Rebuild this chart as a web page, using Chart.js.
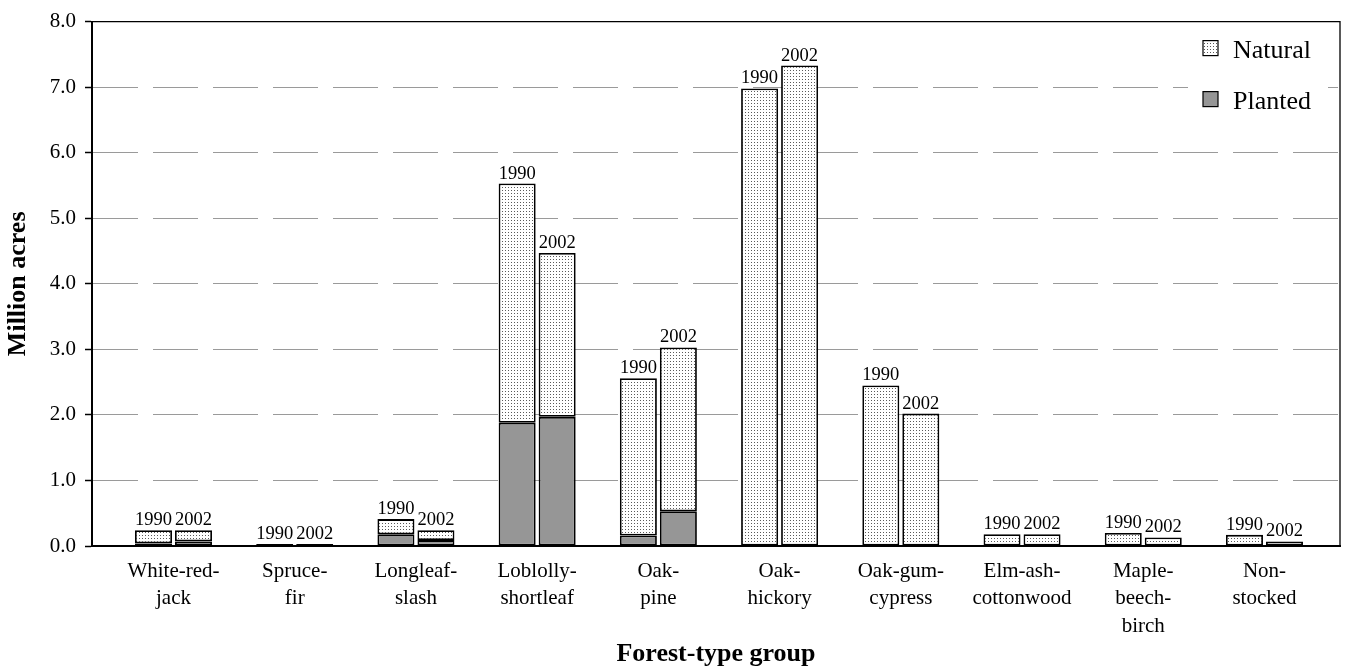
<!DOCTYPE html>
<html>
<head>
<meta charset="utf-8">
<script src="https://cdn.jsdelivr.net/npm/chart.js@4/dist/chart.umd.min.js"></script>
<style>
  html, body { margin: 0; padding: 0; background: #fff; }
</style>
</head>
<body>
<canvas id="chart" width="1346" height="667"></canvas>
<script>
'use strict';

let categories = [
  ['White-red-', 'jack'],
  ['Spruce-', 'fir'],
  ['Longleaf-', 'slash'],
  ['Loblolly-', 'shortleaf'],
  ['Oak-', 'pine'],
  ['Oak-', 'hickory'],
  ['Oak-gum-', 'cypress'],
  ['Elm-ash-', 'cottonwood'],
  ['Maple-', 'beech-', 'birch'],
  ['Non-', 'stocked']
];
let years = ['1990', '2002'];
let planted1990 = [0.04, 0.00, 0.18, 1.88, 0.16, 0, 0, 0, 0, 0];
let natural1990 = [0.20, 0.03, 0.23, 3.65, 2.40, 6.98, 2.45, 0.18, 0.20, 0.17];
let planted2002 = [0.07, 0.00, 0.09, 1.97, 0.53, 0, 0, 0, 0, 0];
let natural2002 = [0.17, 0.03, 0.15, 2.50, 2.50, 7.33, 2.02, 0.18, 0.13, 0.07];
let yTicks = [0, 1, 2, 3, 4, 5, 6, 7, 8];

Chart.defaults.font.family = '"Liberation Serif", "Times New Roman", serif';
Chart.defaults.color = '#000';

let canvas = document.getElementById('chart');
let ctx = canvas.getContext('2d');

// fine dot texture for the natural stands
let tile = document.createElement('canvas');
tile.width = 3;
tile.height = 3;
let tctx = tile.getContext('2d');
tctx.fillStyle = '#fff';
tctx.fillRect(0, 0, 3, 3);
tctx.fillStyle = '#5a5a5a';
tctx.fillRect(1, 1, 1, 1);
let dots = ctx.createPattern(tile, 'repeat');
let plantedColor = '#969696';

function points(arr) {
  return arr.map((v, i) => ({ x: i, y: v || null }));
}

function barSet(label, arr, fill, stack) {
  return {
    label: label,
    data: points(arr),
    stack: stack,
    backgroundColor: fill,
    borderColor: '#000',
    borderWidth: 1.8,
    borderSkipped: false,
    categoryPercentage: 0.66,
    barPercentage: 0.925
  };
}

let extras = {
  id: 'extras',
  afterDatasetsDraw(chart) {
    let c = chart.ctx;
    let a = chart.chartArea;
    c.save();

    // year labels over each bar
    c.font = '18.5px "Liberation Serif"';
    c.fillStyle = '#000';
    c.textAlign = 'center';
    c.textBaseline = 'alphabetic';
    [1, 3].forEach((di, k) => {
      chart.getDatasetMeta(di).data.forEach(bar => {
        c.fillText(years[k], bar.x, bar.y - 5);
      });
    });

    // top and right frame
    c.strokeStyle = '#000';
    c.lineWidth = 1.3;
    c.beginPath();
    c.moveTo(a.left, a.top);
    c.lineTo(a.right, a.top);
    c.lineTo(a.right, a.bottom);
    c.stroke();

    // legend inside the plot
    let lx = a.right - 137;
    c.fillStyle = '#fff';
    c.fillRect(a.right - 152, a.top + 8, 140, 98);
    let rows = [['Natural', dots, a.top + 19], ['Planted', plantedColor, a.top + 70]];
    c.font = '26px "Liberation Serif"';
    c.textAlign = 'left';
    rows.forEach(r => {
      c.fillStyle = r[1];
      c.fillRect(lx, r[2], 15, 15);
      c.lineWidth = 1.2;
      c.strokeRect(lx, r[2], 15, 15);
      c.fillStyle = '#000';
      c.fillText(r[0], lx + 30, r[2] + 17);
    });
    c.restore();
  }
};

new Chart(canvas, {
  type: 'bar',
  data: {
    datasets: [
      barSet('Planted', planted1990, plantedColor, '1990'),
      barSet('Natural', natural1990, dots, '1990'),
      barSet('Planted', planted2002, plantedColor, '2002'),
      barSet('Natural', natural2002, dots, '2002')
    ]
  },
  options: {
    responsive: false,
    animation: false,
    events: [],
    layout: { padding: { top: 17, right: 6, left: 0, bottom: 0 } },
    plugins: {
      legend: { display: false },
      tooltip: { enabled: false }
    },
    scales: {
      x: {
        type: 'linear',
        offset: false,
        bounds: 'data',
        min: -0.6723,
        max: 9.623,
        grid: { display: false, drawTicks: false, offset: false },
        border: { color: '#000', width: 2 },
        afterBuildTicks: s => { s.ticks = categories.map((c, i) => ({ value: i })); },
        afterFit: s => { s.height = 121; },
        ticks: {
          autoSkip: false,
          maxRotation: 0,
          padding: 12,
          font: { size: 21, lineHeight: 1.3 },
          callback: v => categories[v]
        },
        title: {
          display: true,
          text: 'Forest-type group',
          font: { size: 26, weight: 'bold', lineHeight: 1 },
          padding: { top: 0, bottom: 0 }
        }
      },
      y: {
        stacked: true,
        min: 0,
        max: 8,
        afterBuildTicks: s => { s.ticks = yTicks.map(v => ({ value: v })); },
        afterFit: s => { s.width = 92; },
        ticks: {
          padding: 9,
          font: { size: 21 },
          callback: v => v.toFixed(1)
        },
        grid: {
          color: '#9a9a9a',
          lineWidth: 1,
          tickLength: 7,
          tickColor: '#000',
          tickWidth: 1.5,
          tickBorderDash: []
        },
        border: { color: '#000', width: 2, dash: [45, 15] },
        title: {
          display: true,
          text: 'Million acres',
          font: { size: 26, weight: 'bold', lineHeight: 1 },
          padding: { top: 5 }
        }
      }
    }
  },
  plugins: [extras]
});
</script>
</body>
</html>
